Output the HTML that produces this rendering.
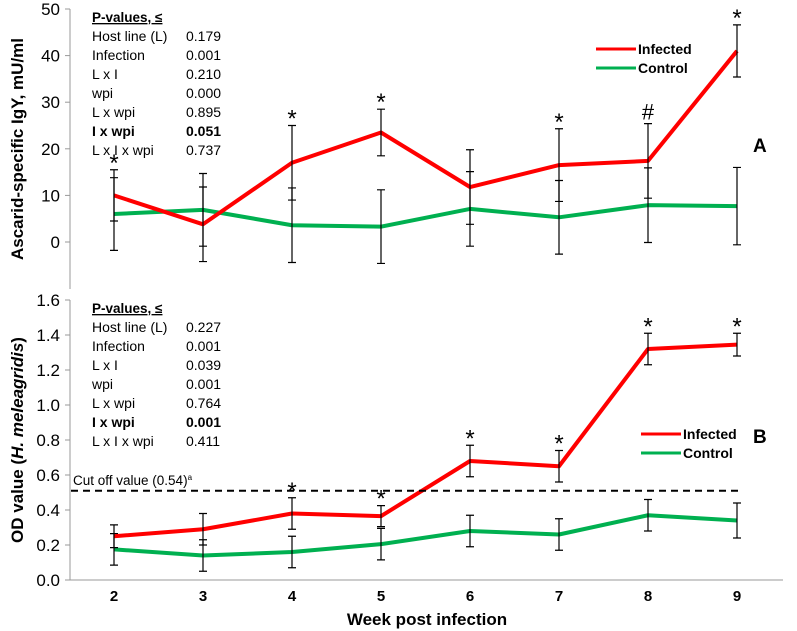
<!DOCTYPE html>
<html><head><meta charset="utf-8"><style>
html,body{margin:0;padding:0;background:#fff}
svg{display:block;font-family:"Liberation Sans",sans-serif}
</style></head><body>
<svg id="c" width="797" height="631" viewBox="0 0 797 631"></svg>
<script>
const weeks=[2,3,4,5,6,7,8,9];
const aInfected=[10,3.8,17,23.5,11.8,16.5,17.4,41];
const aInfErr=[5.5,8,8,5,8,7.8,8,5.6];
const aControl=[6,6.9,3.6,3.3,7.1,5.3,7.9,7.7];
const aCtlErr=[7.8,7.8,8,7.9,8,7.9,8,8.3];
const aMarks=['*','','*','*','','*','#','*'];
const bInfected=[0.25,0.29,0.38,0.365,0.68,0.65,1.32,1.345];
const bInfErr=[0.065,0.09,0.09,0.06,0.09,0.09,0.09,0.065];
const bControl=[0.175,0.14,0.16,0.205,0.28,0.26,0.37,0.34];
const bCtlErr=[0.09,0.09,0.09,0.09,0.09,0.09,0.09,0.1];
const bMarks=['','','*','*','*','*','*','*'];
const aTicks=[0,10,20,30,40,50];
const bTicks=[0,0.2,0.4,0.6,0.8,1.0,1.2,1.4,1.6];
const cutoff=0.51;
const aP=[['Host line (L)','0.179'],['Infection','0.001'],['L x I','0.210'],['wpi','0.000'],['L x wpi','0.895'],['I x wpi','0.051'],['L x I x wpi','0.737']];
const bP=[['Host line (L)','0.227'],['Infection','0.001'],['L x I','0.039'],['wpi','0.001'],['L x wpi','0.764'],['I x wpi','0.001'],['L x I x wpi','0.411']];

const svg=document.getElementById('c');
const NS='http://www.w3.org/2000/svg';
function mk(t,a,p){const e=document.createElementNS(NS,t);for(const k in a)e.setAttribute(k,a[k]);(p||svg).appendChild(e);return e;}
const x=w=>114+(w-2)*89;
const yA=v=>242-v*4.66;
const yB=v=>580-v*175;

function panel(id,yf,ticks,fmt,axTop,axBot,inf,infE,ctl,ctlE,marks,pv,legY,legX,letter,letY,ylab){
  const g=mk('g',{});
  
  
  let ax=mk('line',{x1:70,x2:70,y1:axTop,y2:axBot,stroke:'#999','stroke-width':1},g);
  
  
  ticks.forEach(t=>{
    mk('line',{x1:65,x2:70,y1:yf(t),y2:yf(t),stroke:'#999'},g);
    const tx=mk('text',{x:60,y:yf(t)+6,'text-anchor':'end','font-size':17,fill:'#000'},g);
    tx.textContent=fmt(t);
    
    
  });
  const yl=mk('text',{transform:`translate(23,${(axTop+axBot)/2}) rotate(-90)`,'text-anchor':'middle','font-size':17,'font-weight':'bold'},g);
  yl.innerHTML=ylab;
  
  
  function series(vals,errs,col,nm){
    const pts=weeks.map((w,i)=>x(w)+','+yf(vals[i])).join(' ');
    const pl=mk('polyline',{points:pts,fill:'none',stroke:col,'stroke-width':4,'stroke-linejoin':'round'},g);
    
    
    weeks.forEach((w,i)=>{
      const t=yf(vals[i]+errs[i]),b=yf(vals[i]-errs[i]),cx=x(w);
      const eb=mk('path',{d:`M${cx},${t}V${b}M${cx-4},${t}H${cx+4}M${cx-4},${b}H${cx+4}`,stroke:'#000','stroke-width':1.2,fill:'none'},g);
      
      
    });
  }
  series(ctl,ctlE,'#00b050','control');
  series(inf,infE,'#ff0000','infected');
  weeks.forEach((w,i)=>{
    if(!marks[i])return;
    const t=mk('text',{x:x(w),y:yf(inf[i]+infE[i])-(marks[i]=='#'?4:-1),'text-anchor':'middle','font-size':marks[i]=='#'?22:24},g);
    t.textContent=marks[i];
    
    
  });
  const py0=axTop+13;
  const h=mk('text',{x:92,y:py0,'font-size':13.5,'font-weight':'bold','text-decoration':'underline'},g);
  h.textContent='P-values, ≤';
  
  
  pv.forEach((r,i)=>{
    const bold=r[0]=='I x wpi'?'bold':'normal';
    const a=mk('text',{x:92,y:py0+19*(i+1),'font-size':14,'font-weight':bold},g);a.textContent=r[0];
    
    
    const b=mk('text',{x:186,y:py0+19*(i+1),'font-size':14,'font-weight':bold},g);b.textContent=r[1];
    
    
  });
  [['Infected','#ff0000'],['Control','#00b050']].forEach((l,i)=>{
    const ly=legY+i*19;
    const ll=mk('line',{x1:legX,x2:legX+40,y1:ly,y2:ly,stroke:l[1],'stroke-width':3},g);
    
    
    const lt=mk('text',{x:legX+42,y:ly+5,'font-size':14,'font-weight':'bold'},g);lt.textContent=l[0];
    
    
  });
  const L=mk('text',{x:753,y:letY,'font-size':19,'font-weight':'bold'},g);L.textContent=letter;
  
  
}
panel('panel-a',yA,aTicks,t=>String(t),9,289,aInfected,aInfErr,aControl,aCtlErr,aMarks,aP,49,596,'A',152,'Ascarid-specific IgY, mU/ml');
panel('panel-b',yB,bTicks,t=>t.toFixed(1),300,580,bInfected,bInfErr,bControl,bCtlErr,bMarks,bP,434,641,'B',163+280,'OD value (<tspan font-style="italic">H. meleagridis</tspan>)');
const xa=mk('line',{x1:70,x2:783,y1:580,y2:580,stroke:'#999'});


weeks.forEach(w=>{
  const t=mk('text',{x:x(w),y:601,'text-anchor':'middle','font-size':15,'font-weight':'bold'});t.textContent=w;
  
  
});
const xt=mk('text',{x:427,y:625,'text-anchor':'middle','font-size':17,'font-weight':'bold'});xt.textContent='Week post infection';


const cl=mk('line',{x1:71,x2:741,y1:yB(cutoff),y2:yB(cutoff),stroke:'#000','stroke-width':2,'stroke-dasharray':'7,5'});


const ct=mk('text',{x:73,y:yB(cutoff)-6,'font-size':13.5});ct.innerHTML='Cut off value (0.54)<tspan font-size="8" dy="-5">a</tspan>';


</script>
</body></html>
